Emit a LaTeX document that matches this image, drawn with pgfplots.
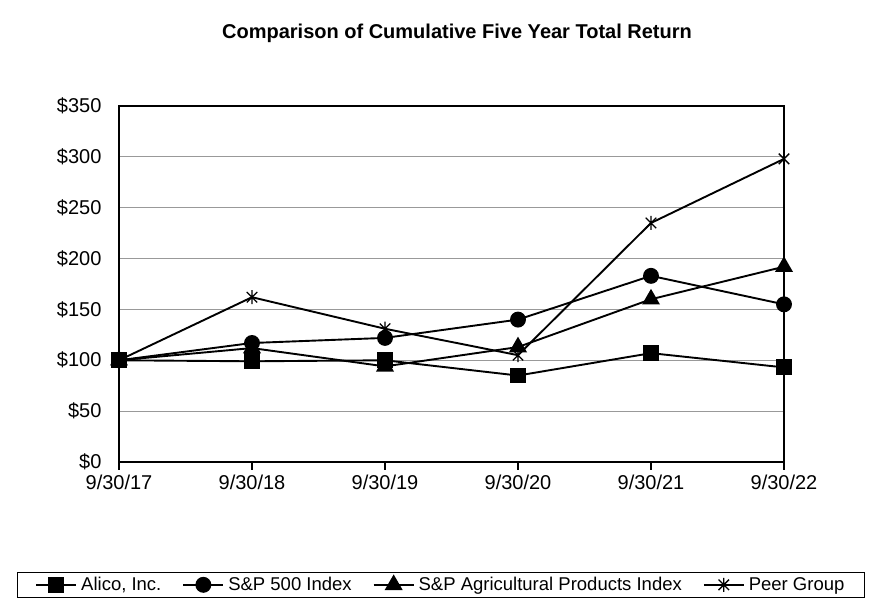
\documentclass[border=0pt]{standalone}
\usepackage{pgfplots}
\pgfplotsset{compat=1.18}
\usepackage{fontspec}
\setmainfont{Liberation Sans}
\pgfdeclareplotmark{xstar}{%
  \pgfpathmoveto{\pgfqpoint{-0.75\pgfplotmarksize}{-0.75\pgfplotmarksize}}%
  \pgfpathlineto{\pgfqpoint{0.75\pgfplotmarksize}{0.75\pgfplotmarksize}}%
  \pgfpathmoveto{\pgfqpoint{-0.75\pgfplotmarksize}{0.75\pgfplotmarksize}}%
  \pgfpathlineto{\pgfqpoint{0.75\pgfplotmarksize}{-0.75\pgfplotmarksize}}%
  \pgfpathmoveto{\pgfqpoint{0pt}{-\pgfplotmarksize}}%
  \pgfpathlineto{\pgfqpoint{0pt}{\pgfplotmarksize}}%
  \pgfusepathqstroke}
\begin{document}
\begin{tikzpicture}[x=1pt,y=1pt]
\path[use as bounding box] (0,0) rectangle (896,609);
\node[font=\fontsize{20}{24}\selectfont\bfseries] at (457,576) {Comparison of Cumulative Five Year Total Return};
\begin{axis}[
  at={(119pt,147pt)}, anchor=south west,
  scale only axis, width=665pt, height=356pt,
  xmin=0, xmax=5, ymin=0, ymax=350,
  xtick={0,1,2,3,4,5},
  xticklabels={9/30/17,9/30/18,9/30/19,9/30/20,9/30/21,9/30/22},
  ytick={0,50,100,150,200,250,300,350},
  yticklabels={\$0,\$50,\$100,\$150,\$200,\$250,\$300,\$350},
  ymajorgrids, grid style={gray!80, line width=1pt},
  axis line style={black, line width=1.6pt},
  x tick style={black, line width=1.4pt},
  xtick pos=bottom, xtick align=outside, major tick length=8pt,
  y tick style={draw=none},
  ticklabel style={font=\fontsize{20}{24}\selectfont},
  xticklabel style={yshift=-1pt},
  yticklabel style={xshift=-14pt},
  every axis plot/.append style={black, line width=1.9pt, mark options={solid,fill=black}},
  legend columns=4,
  legend style={at={(0.484,-0.345)}, anchor=center, draw=black, line width=1pt,
    font=\fontsize{18.5}{22}\selectfont, inner xsep=18pt, inner ysep=3pt,
    /tikz/every odd column/.append style={column sep=2pt},
    /tikz/every even column/.append style={column sep=19pt}},
  legend image code/.code={\draw[#1,mark repeat=2,mark phase=2] plot coordinates {(0pt,0pt) (20pt,0pt) (40pt,0pt)};},
  clip=false,
]
\addplot[mark=square*, mark size=7pt] coordinates {(0,100) (1,99) (2,100) (3,85) (4,107) (5,93)};
\addlegendentry{Alico, Inc.}
\addplot[mark=*, mark size=7pt] coordinates {(0,100) (1,117) (2,122) (3,140) (4,183) (5,155)};
\addlegendentry{S\&P 500 Index}
\addplot[mark=triangle*, mark size=8.5pt] coordinates {(0,100) (1,112) (2,94) (3,113) (4,160) (5,192)};
\addlegendentry{S\&P Agricultural Products Index}
\addplot[mark=xstar, mark size=7pt, mark options={line width=1.3pt}] coordinates {(0,100) (1,162) (2,131) (3,105) (4,235) (5,298)};
\addlegendentry{Peer Group}
\end{axis}
\end{tikzpicture}
\end{document}
